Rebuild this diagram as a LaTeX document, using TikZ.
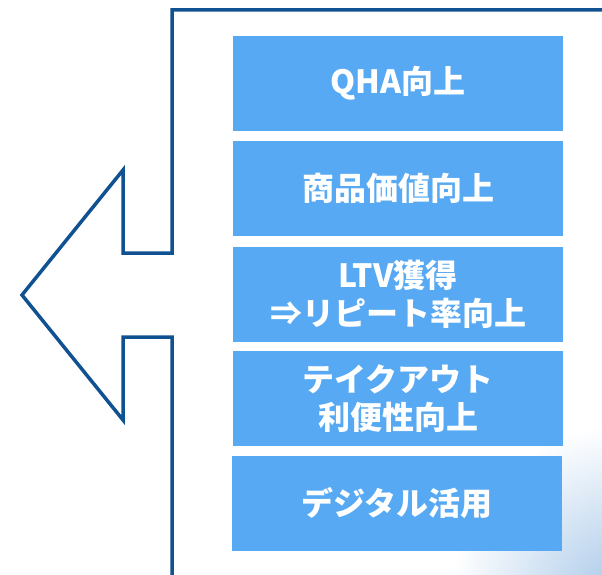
\documentclass[tikz,border=0pt]{standalone}
\usepackage{fontspec}
\newfontfamily\jpfont{Noto Sans CJK JP}
\definecolor{arrowblue}{RGB}{16,82,145}
\definecolor{boxblue}{RGB}{86,169,242}
\definecolor{fadeblue}{RGB}{165,198,232}
\tikzset{
  goalbox/.style={fill=boxblue, minimum width=330pt, minimum height=95pt, inner sep=0pt,
    align=center, text=white, font=\jpfont\bfseries\fontsize{32}{38}\selectfont},
}

\begin{document}
\begin{tikzpicture}[x=1pt, y=-1pt]
			%%%%% START %%%%%
			\useasboundingbox (0, 0) rectangle (602, 575);
			
			\begin{scope}
			\clip (0, 0) rectangle (602, 575);
			\shade[inner color=fadeblue, outer color=white] (625, 600) circle (175);
			\end{scope}
			
			\draw[line width=3.5pt, color=arrowblue, line join=miter]
			  (610, 10) -- (172, 10) -- (172, 253) -- (123, 253) -- (123, 170)
			  -- (22, 295) -- (123, 420) -- (123, 337) -- (172, 337) -- (172, 585);
			
			\node[goalbox] (qha) at (398, 83.5) {QHA向上};
			\node[goalbox] (value) at (398, 188.5) {商品価値向上};
			\node[goalbox] (ltv) at (398, 294.5) {LTV獲得\\⇒リピート率向上};
			\node[goalbox] (takeout) at (398, 398.5) {テイクアウト\\利便性向上};
			\node[goalbox] (digital) at (397, 503.5) {デジタル活用};
			
			%%%%% END %%%%%
\end{tikzpicture}
\end{document}
